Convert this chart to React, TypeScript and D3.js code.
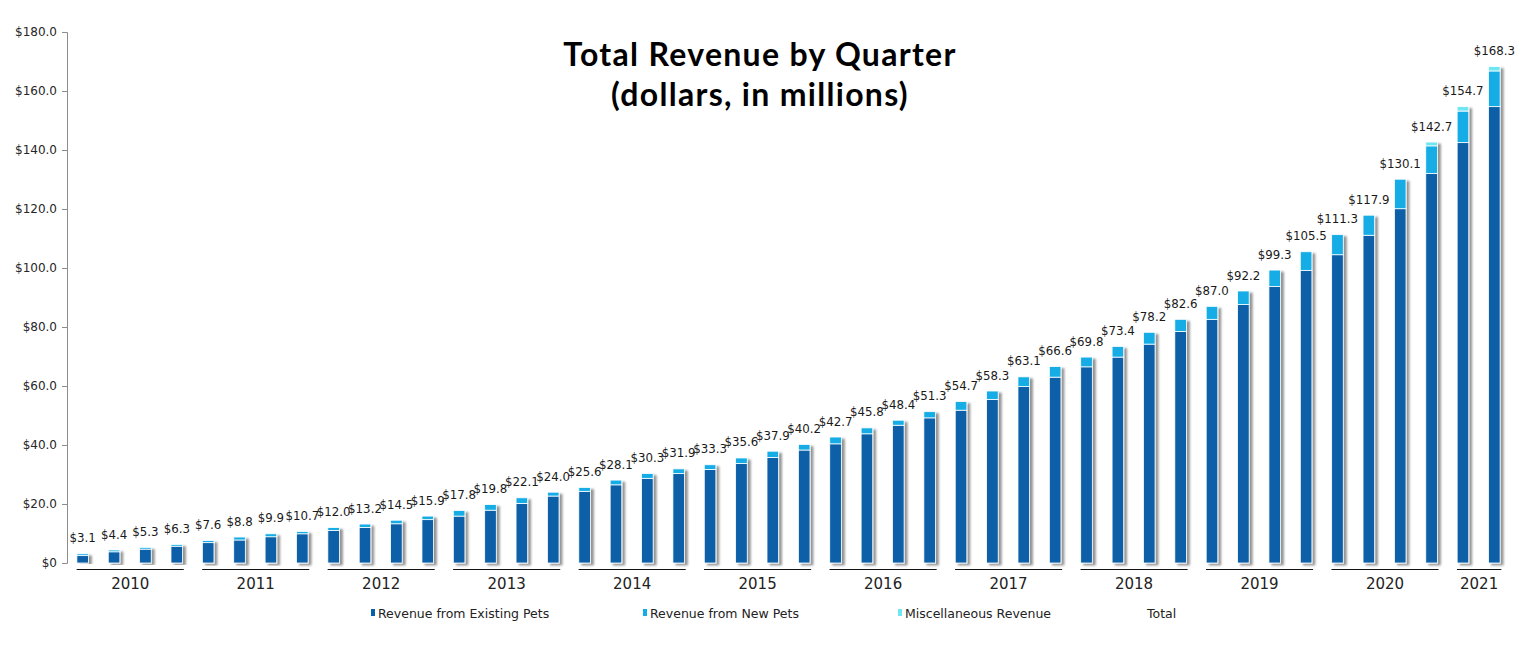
import React, { useEffect, useRef } from "react";
import * as d3 from "d3";

// quarterly values, 2010 Q1 .. 2021 Q2
const years = ["2010", "2011", "2012", "2013", "2014", "2015", "2016", "2017", "2018", "2019", "2020", "2021"];
const quartersPerYear = [4, 4, 4, 4, 4, 4, 4, 4, 4, 4, 4, 2];

const existingPets = [
  2.5, 3.8, 4.7, 5.7,
  6.9, 7.8, 8.9, 9.9,
  11.0, 12.0, 13.3, 14.7,
  15.9, 17.9, 20.2, 22.7,
  24.3, 26.5, 28.7, 30.3,
  31.7, 33.7, 35.8, 38.3,
  40.4, 43.8, 46.7, 49.2,
  51.8, 55.4, 59.8, 63.0,
  66.5, 69.8, 74.2, 78.5,
  82.6, 87.6, 93.7, 99.2,
  104.5, 111.1, 120.1, 132.0,
  142.5, 154.7,
];

const newPets = [
  0.6, 0.6, 0.6, 0.6,
  0.7, 1.0, 1.0, 0.8,
  1.0, 1.2, 1.2, 1.2,
  1.9, 1.9, 1.9, 1.3,
  1.3, 1.6, 1.6, 1.6,
  1.6, 1.9, 2.1, 1.9,
  2.3, 2.0, 1.7, 2.1,
  2.9, 2.9, 3.3, 3.6,
  3.3, 3.6, 4.0, 4.1,
  4.4, 4.6, 5.6, 6.3,
  6.8, 6.8, 10.0, 9.4,
  10.7, 12.1,
];

const miscRevenue = [
  0, 0, 0, 0,
  0, 0, 0, 0,
  0, 0, 0, 0,
  0, 0, 0, 0,
  0, 0, 0, 0,
  0, 0, 0, 0,
  0, 0, 0, 0,
  0, 0, 0, 0,
  0, 0, 0, 0,
  0, 0, 0, 0,
  0, 0, 0, 1.3,
  1.5, 1.5,
];

const totals = [
  3.1, 4.4, 5.3, 6.3,
  7.6, 8.8, 9.9, 10.7,
  12.0, 13.2, 14.5, 15.9,
  17.8, 19.8, 22.1, 24.0,
  25.6, 28.1, 30.3, 31.9,
  33.3, 35.6, 37.9, 40.2,
  42.7, 45.8, 48.4, 51.3,
  54.7, 58.3, 63.1, 66.6,
  69.8, 73.4, 78.2, 82.6,
  87.0, 92.2, 99.3, 105.5,
  111.3, 117.9, 130.1, 142.7,
  154.7, 168.3,
];

const yTicks = [0, 20, 40, 60, 80, 100, 120, 140, 160, 180];

const seriesNames = ["Revenue from Existing Pets", "Revenue from New Pets", "Miscellaneous Revenue", "Total"];
const seriesColors = ["#0860A8", "#12ACE6", "#6FE6F2", "none"];

const width = 1528;
const height = 664;
const margin = { top: 32, right: 18, bottom: 101, left: 67 };
const font = "'DejaVu Sans', sans-serif";

const App: React.FC = () => {
  const svgRef = useRef<SVGSVGElement>(null);

  useEffect(() => {
    if (!svgRef.current) return;
    const svg = d3.select(svgRef.current);
    svg.selectAll("*").remove();

    const idx = totals.map((_, i) => i);
    const x = d3.scaleBand<number>()
      .domain(idx)
      .range([margin.left, width - margin.right])
      .paddingInner(0.63)
      .paddingOuter(0.315);
    const y = d3.scaleLinear()
      .domain([0, 180])
      .range([height - margin.bottom, margin.top]);

    // shadow filter
    const defs = svg.append("defs");
    const f = defs.append("filter").attr("id", "barShadow")
      .attr("x", "-50%").attr("y", "-10%").attr("width", "200%").attr("height", "120%");
    f.append("feDropShadow")
      .attr("dx", 3).attr("dy", 2).attr("stdDeviation", 1.3)
      .attr("flood-color", "#000").attr("flood-opacity", 0.42);

    // title
    const title = svg.append("text")
      .attr("x", 760)
      .attr("text-anchor", "middle")
      .attr("font-family", "Lato, sans-serif")
      .attr("font-weight", "bold")
      .attr("font-size", 32)
      .attr("letter-spacing", 1.3)
      .attr("fill", "#000");
    title.append("tspan").attr("x", 760).attr("y", 66).text("Total Revenue by Quarter");
    title.append("tspan").attr("x", 760).attr("y", 106).text("(dollars, in millions)");

    // y axis
    const yAxis = svg.append("g")
      .attr("transform", `translate(${margin.left},0)`)
      .call(d3.axisLeft(y).tickValues(yTicks).tickSize(5).tickSizeOuter(5)
        .tickFormat(d => (+d === 0 ? "$0" : `$${(+d).toFixed(1)}`)));
    yAxis.select(".domain").attr("stroke", "#8c8c8c");
    yAxis.selectAll(".tick line").attr("stroke", "#8c8c8c");
    yAxis.selectAll(".tick text")
      .attr("font-family", font)
      .attr("font-size", 12)
      .attr("fill", "#262626")
      .attr("x", -10);

    // stacked bars
    const stackData = idx.map(i => ({
      existing: existingPets[i],
      newPets: newPets[i],
      misc: miscRevenue[i],
    }));
    const keys = ["existing", "newPets", "misc"] as const;
    const stacked = d3.stack<any>().keys(keys as any)(stackData);

    const barGroups = svg.append("g").selectAll("g.bar")
      .data(idx)
      .join("g")
      .attr("class", "bar")
      .attr("filter", "url(#barShadow)");

    barGroups.each(function (i) {
      const g = d3.select(this);
      stacked.forEach((layer, k) => {
        const [y0, y1] = layer[i];
        if (y1 - y0 <= 0) return;
        g.append("rect")
          .attr("x", x(i)!)
          .attr("width", x.bandwidth())
          .attr("y", y(y1))
          .attr("height", y(y0) - y(y1))
          .attr("fill", seriesColors[k])
          .attr("stroke", "#fff")
          .attr("stroke-width", 0.8);
      });
    });

    // total labels
    svg.append("g").selectAll("text")
      .data(idx)
      .join("text")
      .attr("x", i => x(i)! + x.bandwidth() / 2)
      .attr("y", i => y(totals[i]) - 11.5)
      .attr("text-anchor", "middle")
      .attr("font-family", font)
      .attr("font-size", 11.8)
      .attr("fill", "#1a1a1a")
      .text(i => `$${totals[i].toFixed(1)}`);

    // year groups
    let start = 0;
    const groups = years.map((yr, j) => {
      const g = { yr, first: start, last: start + quartersPerYear[j] - 1 };
      start += quartersPerYear[j];
      return g;
    });
    const yearG = svg.append("g");
    groups.forEach(g => {
      const x0 = x(g.first)! + x.bandwidth() / 2 - 6;
      const x1 = x(g.last)! + x.bandwidth() / 2 + 7;
      yearG.append("line")
        .attr("x1", x0).attr("x2", x1)
        .attr("y1", 569.5).attr("y2", 569.5)
        .attr("stroke", "#111").attr("stroke-width", 1);
      yearG.append("text")
        .attr("x", (x0 + x1) / 2)
        .attr("y", 589)
        .attr("text-anchor", "middle")
        .attr("font-family", font)
        .attr("font-size", 15)
        .attr("fill", "#222")
        .text(g.yr);
    });

    // legend
    const legendX = [371, 643, 898, 1147];
    const legend = svg.append("g");
    seriesNames.forEach((name, k) => {
      if (seriesColors[k] !== "none") {
        legend.append("rect")
          .attr("x", legendX[k]).attr("y", 609)
          .attr("width", 4).attr("height", 7)
          .attr("fill", seriesColors[k]);
      }
      legend.append("text")
        .attr("x", seriesColors[k] !== "none" ? legendX[k] + 7 : legendX[k])
        .attr("y", 618)
        .attr("font-family", font)
        .attr("font-size", 12.5)
        .attr("fill", "#222")
        .text(name);
    });
  }, []);

  return (
    <svg
      ref={svgRef}
      width={width}
      height={height}
      style={{ position: "absolute", left: 0, top: 0, background: "#fff" }}
    />
  );
};

export default App;
